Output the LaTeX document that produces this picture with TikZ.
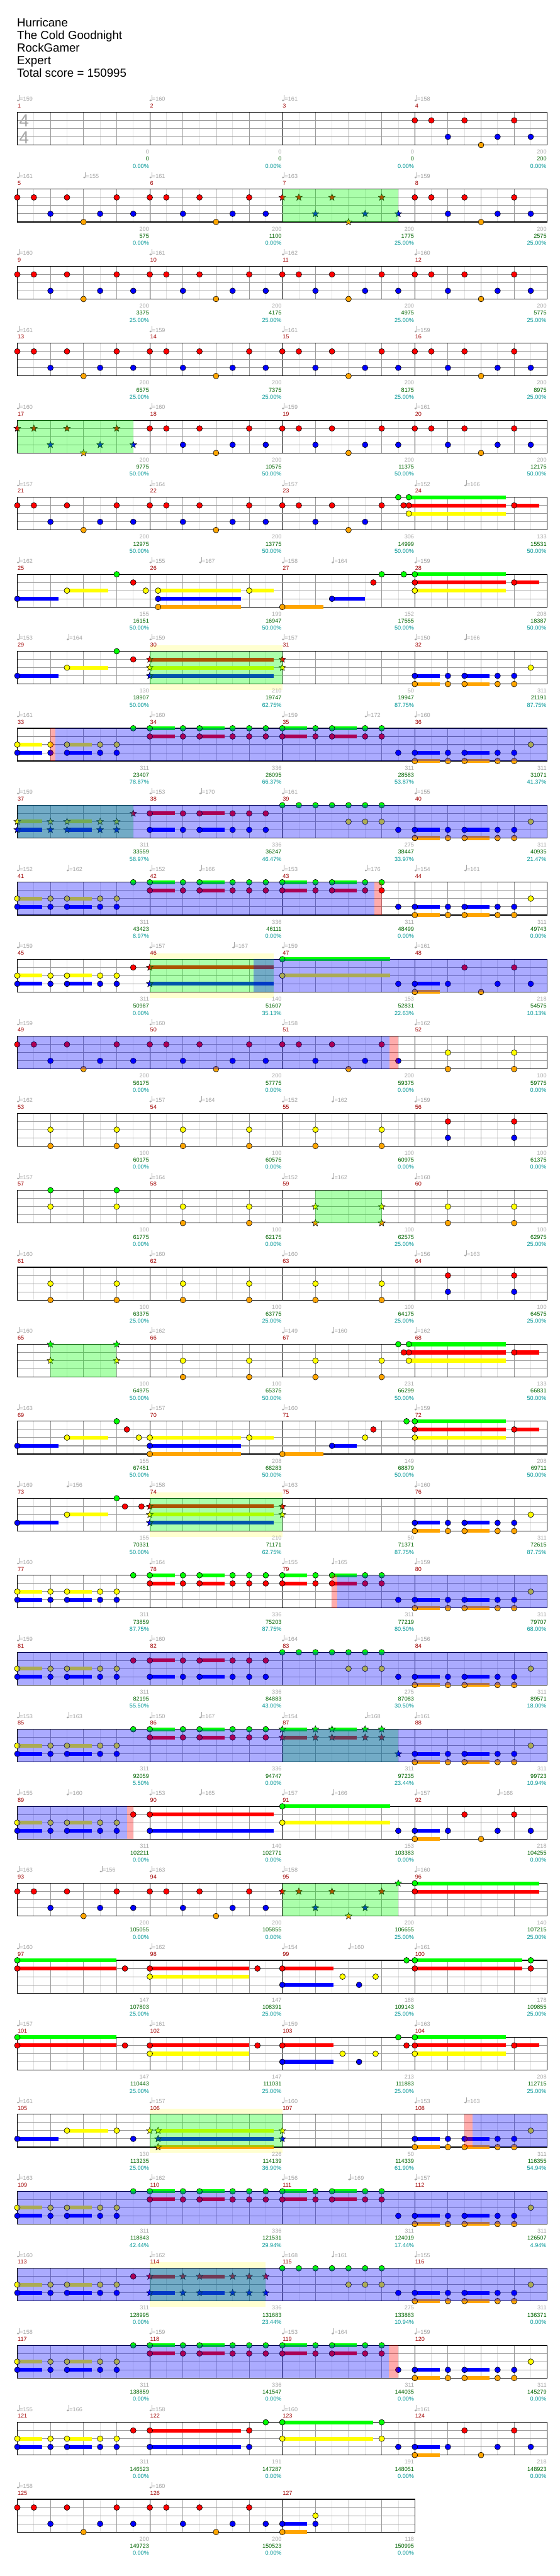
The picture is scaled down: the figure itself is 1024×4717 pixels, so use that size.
\documentclass[tikz,border=0pt]{standalone}
\usepackage{fontspec}
\setmainfont{Liberation Sans}
\usetikzlibrary{shapes.geometric}
\definecolor{c0}{RGB}{0,255,0}
\definecolor{c1}{RGB}{255,0,0}
\definecolor{c2}{RGB}{255,255,0}
\definecolor{c3}{RGB}{0,0,255}
\definecolor{c4}{RGB}{255,165,0}
\definecolor{mnum}{RGB}{160,0,0}
\definecolor{tgrey}{RGB}{165,165,165}
\definecolor{sgreen}{RGB}{0,100,0}
\definecolor{pteal}{RGB}{0,150,150}
\definecolor{ybg}{RGB}{255,255,208}
\definecolor{lgrid}{RGB}{224,224,224}
\definecolor{mgrid}{RGB}{155,155,155}
\newcommand\lf{\fontsize{10.5}{12}\selectfont}
\newcommand\tf{\fontsize{21.5}{25}\selectfont}
\tikzset{lab/.style={anchor=base east,inner sep=0pt,font=\lf},
  mlab/.style={anchor=base west,inner sep=0pt,font=\lf,text=mnum},
  ttl/.style={anchor=base west,inner sep=0pt,font=\tf},
  notesty/.style={draw=black,line width=0.7pt},
  starsty/.style={star,star points=5,star point ratio=2.3,minimum size=13pt,inner sep=0pt,draw=black,line width=0.6pt}}
% position of measure #1, 16th #2, lane #3
\newcommand\mxy[3]{\pgfmathtruncatemacro\rr{(#1-1)/4}\pgfmathtruncatemacro\cc{#1-1-4*\rr}%
 \pgfmathsetmacro\xx{31.67+\cc*242.5+(#2)*15.156}\pgfmathsetmacro\yy{205.5+\rr*141+(#3)*15}}
\newcommand\NtBar[4]{\ifdim #4pt>0pt \mxy{#1}{#2}{#3}\pgfmathsetmacro\xe{\xx+(#4)*15.156}%
 \fill[c#3] (\xx,\yy-3.5) rectangle (\xe,\yy+3.5);\fi}
\newcommand\NtNote[4]{\mxy{#1}{#2}{#3}\filldraw[notesty,fill=c#3] (\xx,\yy) circle[radius=5.2pt];}
\newcommand\StNote[4]{\mxy{#1}{#2}{#3}\node[starsty,fill=c#3] at (\xx,\yy) {};}
\newcommand\Ov[4]{\mxy{#2}{#3}{0}\let\xa\xx\mxy{#2}{#4}{0}%
 \fill[#1,fill opacity=0.33] (\xa,\yy) rectangle (\xx,\yy+60);}
\newcommand\Yb[3]{\mxy{#1}{#2}{0}\let\xa\xx\mxy{#1}{#3}{0}%
 \fill[ybg] (\xa,\yy-10.7) rectangle (\xx,\yy+70.6);}
\newcommand\Tp[3]{\mxy{#1}{#2}{0}%
 \fill[tgrey] (\xx+1.4,\yy-21.6) ellipse [x radius=2.2pt,y radius=1.6pt];
 \draw[tgrey,line width=0.6pt] (\xx+3.3,\yy-21.6) -- (\xx+3.3,\yy-31.5);
 \node[anchor=base west,inner sep=0pt,text=tgrey,font=\lf] at (\xx+4.3,\yy-20.2) {=#3};}
\newcommand\Staff[2]{%
 \pgfmathsetmacro\Ty{205.5+(#1-1)*141}\pgfmathsetmacro\xR{31.67+#2*242.5}%
 \pgfmathtruncatemacro\nE{8*#2-1}\pgfmathtruncatemacro\nB{4*#2-1}%
  \fill[white] (31.67,\Ty) rectangle (\xR,\Ty+60);
  \foreach \k in {1,3,...,\nE} {\draw[lgrid,line width=0.8pt] (31.67+\k*30.3125,\Ty) -- (31.67+\k*30.3125,\Ty+60);}
  \foreach \k in {1,...,\nB} {\pgfmathtruncatemacro\mk{mod(\k,4)}%
    \ifnum\mk=0 \draw[black,line width=0.8pt] (31.67+\k*60.625,\Ty) -- (31.67+\k*60.625,\Ty+60);%
    \else \draw[mgrid,line width=0.9pt] (31.67+\k*60.625,\Ty) -- (31.67+\k*60.625,\Ty+60);\fi}
  \foreach \l in {15,30,45} {\draw[mgrid,line width=1.2pt] (31.67,\Ty+\l) -- (\xR,\Ty+\l);}
  \draw[black,line width=1.3pt] (31.67,\Ty) rectangle (\xR,\Ty+60);}
% patterns
\newcommand\PAb[2][\Nt]{#1{#2}{0}{1}{0}#1{#2}{2}{1}{0}#1{#2}{6}{1}{0}#1{#2}{12}{1}{0}#1{#2}{4}{3}{0}#1{#2}{10}{3}{0}#1{#2}{8}{4}{0}}
\newcommand\PA[2][\Nt]{\PAb[#1]{#2}#1{#2}{14}{3}{0}}
\newcommand\PP[4][\Nt]{#1{#2}{0}{#3}{3}#1{#2}{4}{#3}{0}#1{#2}{6}{#3}{3}#1{#2}{10}{#3}{0}#1{#2}{12}{#3}{0}%
 #1{#2}{0}{#4}{3}#1{#2}{4}{#4}{0}#1{#2}{6}{#4}{3}#1{#2}{10}{#4}{0}#1{#2}{12}{#4}{0}}
\newcommand\PC[1]{\PP{#1}{3}{4}\Nt{#1}{14}{2}{0}}
\newcommand\PD[2][\Nt]{\PP[#1]{#2}{2}{3}}
\newcommand\PE[1]{\PP{#1}{0}{1}\Nt{#1}{14}{0}{0}\Nt{#1}{14}{1}{0}}
\newcommand\PF[2][\Nt]{\PP[#1]{#2}{0}{1}#1{#2}{14}{3}{0}}
\newcommand\PH[2][\Nt]{\PP[#1]{#2}{1}{3}#1{#2}{14}{1}{0}#1{#2}{14}{3}{0}}
\newcommand\PI[1]{\Nt{#1}{0}{0}{0}\Nt{#1}{2}{0}{0}\Nt{#1}{4}{0}{0}\Nt{#1}{6}{0}{0}\Nt{#1}{8}{0}{0}\Nt{#1}{10}{0}{0}\Nt{#1}{12}{0}{0}%
 \Nt{#1}{8}{2}{0}\Nt{#1}{10}{2}{0}\Nt{#1}{12}{2}{0}\Nt{#1}{14}{3}{0}}
\newcommand\PG[1]{\Nt{#1}{0}{3}{3}\Nt{#1}{4}{3}{0}\Nt{#1}{10}{3}{0}\Nt{#1}{14}{3}{0}\Nt{#1}{6}{1}{0}\Nt{#1}{12}{1}{0}\Nt{#1}{0}{4}{3}\Nt{#1}{8}{4}{0}}
\newcommand\Qx[4][\Nt]{#1{#2}{4}{#3}{0}#1{#2}{12}{#3}{0}#1{#2}{4}{#4}{0}#1{#2}{12}{#4}{0}}
\newcommand\NoteData{%
\PA{4}
\PA{5}\PA{6}\PA[\St]{7}\PA{8}
\PA{9}\PA{10}\PA{11}\PA{12}
\PA{13}\PA{14}\PA{15}\PA{16}
\PA[\St]{17}\PA{18}\PA{19}\PA{20}
\PA{21}\PA{22}\PAb{23}\Nt{23}{14}{0}{0}\Nt{23}{14.63}{1}{0}\Nt{23}{15.28}{0}{11.7}\Nt{23}{15.28}{1}{11.7}\Nt{23}{15.28}{2}{11.7}\Nt{24}{12}{1}{3}
\Nt{25}{0}{3}{5}\Nt{25}{6}{2}{5}\Nt{25}{12}{0}{0}\Nt{25}{14}{1}{0}\Nt{25}{15.5}{2}{0}
\Nt{26}{1}{2}{10}\Nt{26}{1}{3}{10}\Nt{26}{1}{4}{10}\Nt{26}{12}{2}{3}
\Nt{27}{0}{4}{5}\Nt{27}{6}{3}{4}\Nt{27}{11}{1}{0}\Nt{27}{12}{0}{0}\Nt{27}{14.67}{0}{0}
\Nt{28}{0}{0}{11}\Nt{28}{0}{1}{11}\Nt{28}{0}{2}{11}\Nt{28}{12}{1}{3}
\Nt{29}{0}{3}{5}\Nt{29}{6}{2}{5}\Nt{29}{12}{0}{0}\Nt{29}{14}{1}{0}
\St{30}{0}{1}{15}\St{30}{0}{2}{15}\St{30}{0}{3}{15}\St{31}{0}{1}{0}\St{31}{0}{2}{0}\PC{32}
\PD{33}\Nt{33}{14}{0}{0}\PE{34}\PF{35}\PC{36}
\PD[\St]{37}\St{37}{14}{1}{0}\PH{38}\PI{39}\PC{40}
\PD{41}\Nt{41}{14}{0}{0}\PE{42}\PF{43}\PC{44}
\PD{45}\Nt{45}{14}{1}{0}\St{46}{0}{1}{14.93}\St{46}{0}{3}{14.93}\Nt{47}{0}{0}{13}\Nt{47}{0}{2}{13}\Nt{47}{14}{3}{0}\PG{48}
\PA{49}\PA{50}\PA{51}\Qx{52}{2}{4}
\Qx{53}{2}{4}\Qx{54}{2}{4}\Qx{55}{2}{4}\Qx{56}{1}{3}
\Qx{57}{0}{2}\Qx{58}{2}{4}\Qx[\St]{59}{2}{4}\Qx{60}{2}{4}
\Qx{61}{2}{4}\Qx{62}{2}{4}\Qx{63}{2}{4}\Qx{64}{1}{3}
\Qx[\St]{65}{0}{2}\Qx{66}{2}{4}\Qx{67}{2}{4}\Nt{67}{14}{0}{0}\Nt{67}{14.67}{1}{0}\Nt{67}{15.28}{0}{11.7}\Nt{67}{15.28}{1}{11.7}\Nt{67}{15.28}{2}{11.7}\Nt{68}{12}{1}{3}
\Nt{69}{0}{3}{5}\Nt{69}{6}{2}{5}\Nt{69}{12}{0}{0}\Nt{69}{13.23}{1}{0}\Nt{69}{14.67}{2}{0}
\Nt{70}{0}{2}{11}\Nt{70}{0}{3}{11}\Nt{70}{0}{4}{11}\Nt{70}{12}{2}{3}
\Nt{71}{0}{4}{5}\Nt{71}{6}{3}{3}\Nt{71}{10}{2}{0}\Nt{71}{11}{1}{0}\Nt{71}{15}{0}{0}
\Nt{72}{0}{0}{11}\Nt{72}{0}{1}{11}\Nt{72}{0}{2}{11}\Nt{72}{12}{1}{3}
\Nt{73}{0}{3}{5}\Nt{73}{6}{2}{5}\Nt{73}{12}{0}{0}\Nt{73}{13}{1}{0}\Nt{73}{15}{1}{0}
\St{74}{0}{1}{15}\St{74}{0}{2}{15}\St{74}{0}{3}{15}\St{75}{0}{1}{0}\St{75}{0}{2}{0}\PC{76}
\PD{77}\Nt{77}{14}{0}{0}\PE{78}\PF{79}\PC{80}
\PD{81}\Nt{81}{14}{1}{0}\PH{82}\PI{83}\PC{84}
\PD{85}\Nt{85}{14}{0}{0}\PE{86}\PF[\St]{87}\PC{88}
\PD{89}\Nt{89}{14}{1}{0}\Nt{90}{0}{1}{15}\Nt{90}{0}{3}{15}\Nt{91}{0}{0}{13}\Nt{91}{0}{2}{13}\Nt{91}{14}{3}{0}\PG{92}
\PA{93}\PA{94}\PAb[\St]{95}\St{95}{14}{0}{0}\Nt{96}{0}{0}{15}\Nt{96}{0}{1}{15}
\Nt{97}{0}{0}{12}\Nt{97}{0}{1}{12}\Nt{97}{13}{1}{0}\Nt{98}{0}{1}{12}\Nt{98}{0}{2}{12}\Nt{98}{13}{1}{0}
\Nt{99}{0}{1}{6.2}\Nt{99}{0}{3}{6.2}\Nt{99}{7.27}{2}{0}\Nt{99}{9.27}{3}{0}\Nt{99}{11.27}{2}{0}\Nt{99}{15}{0}{0}
\Nt{100}{0}{0}{13}\Nt{100}{0}{1}{13}\Nt{100}{14}{0}{0}\Nt{100}{14}{1}{0}
\Nt{101}{0}{0}{12}\Nt{101}{0}{1}{12}\Nt{101}{13}{1}{0}\Nt{102}{0}{1}{12}\Nt{102}{0}{2}{12}\Nt{102}{13}{1}{0}
\Nt{103}{0}{1}{6.2}\Nt{103}{0}{3}{6.2}\Nt{103}{7.27}{2}{0}\Nt{103}{9.27}{3}{0}\Nt{103}{11.27}{2}{0}\Nt{103}{14}{0}{0}\Nt{103}{15}{1}{0}
\Nt{104}{0}{0}{11}\Nt{104}{0}{1}{11}\Nt{104}{0}{2}{11}\Nt{104}{12}{1}{3}
\Nt{105}{0}{3}{5}\Nt{105}{6}{2}{5}\Nt{105}{12}{2}{0}\Nt{105}{14}{3}{0}
\St{106}{0}{2}{0}\St{106}{1}{2}{14}\St{106}{1}{3}{14}\St{106}{1}{4}{14}\St{107}{0}{2}{0}\St{107}{0}{3}{0}\PC{108}
\PD{109}\Nt{109}{14}{0}{0}\PE{110}\PF{111}\PC{112}
\PD{113}\Nt{113}{14}{1}{0}\PH[\St]{114}\PI{115}\PC{116}
\PD{117}\Nt{117}{14}{0}{0}\PE{118}\PF{119}\PC{120}
\PD{121}\Nt{121}{14}{1}{0}\Nt{122}{0}{1}{11}\Nt{122}{0}{3}{11}\Nt{122}{12}{1}{0}\Nt{122}{12}{3}{0}\Nt{122}{14}{0}{0}
\Nt{123}{0}{0}{11}\Nt{123}{0}{2}{11}\Nt{123}{12}{0}{0}\Nt{123}{12}{2}{0}\Nt{123}{14}{3}{0}\PG{124}
\PA{125}\PA{126}\Nt{127}{0}{3}{3}\Nt{127}{0}{4}{3}\Nt{127}{4}{2}{0}\Nt{127}{4}{3}{0}}
\begin{document}
\begin{tikzpicture}[x=1pt,y=-1pt]
\useasboundingbox (0,0) rectangle (1024,4717);
\fill[white] (0,0) rectangle (1024,4717);
% title
\node[ttl] (t1) at (31,49) {Hurricane};
\node[ttl] (t2) at (31,72) {The Cold Goodnight};
\node[ttl] (t3) at (31,95) {RockGamer};
\node[ttl] (t4) at (31,118) {Expert};
\node[ttl] (t5) at (31,141) {Total score = 150995};
% yellow bands
\Yb{30}{0}{16}\Yb{46}{0}{14.93}\Yb{74}{0}{16}\Yb{106}{0}{16}\Yb{114}{0}{14}
% staffs
\foreach \r in {1,...,31} {\Staff{\r}{4}}
\Staff{32}{3}
\node[anchor=base west,inner sep=0pt,text=tgrey,font=\fontsize{32}{34}\selectfont] (ts1) at (35,232.3) {4};
\node[anchor=base west,inner sep=0pt,text=tgrey,font=\fontsize{32}{34}\selectfont] (ts2) at (35,262.7) {4};
% sustain bars, then notes
\let\Nt\NtBar\let\St\NtBar\NoteData
\let\Nt\NtNote\let\St\StNote\NoteData
% overlays
\Ov{green}{7}{0}{14}\Ov{green}{17}{0}{14}\Ov{green}{30}{0}{16}\Ov{green}{37}{0}{14}\Ov{green}{46}{0}{14.93}
\Ov{green}{59}{4}{12}\Ov{green}{65}{4}{12}\Ov{green}{74}{0}{16}\Ov{green}{87}{0}{14}\Ov{green}{95}{0}{14}
\Ov{green}{106}{0}{16}\Ov{green}{114}{0}{14}
\Ov{red}{33}{4}{4.57}\Ov{blue}{33}{4.57}{64}\Ov{blue}{37}{0}{64}\Ov{blue}{41}{0}{43.1}\Ov{red}{41}{43.1}{44.06}
\Ov{blue}{46}{12.56}{48}\Ov{blue}{49}{0}{44.93}\Ov{red}{49}{44.93}{45.97}
\Ov{red}{77}{37.96}{38.66}\Ov{blue}{77}{38.66}{64}\Ov{blue}{81}{0}{64}\Ov{blue}{85}{0}{64}
\Ov{blue}{89}{0}{13.23}\Ov{red}{89}{13.23}{14}
\Ov{red}{105}{53.98}{54.98}\Ov{blue}{105}{54.98}{64}\Ov{blue}{109}{0}{64}\Ov{blue}{113}{0}{64}
\Ov{blue}{117}{0}{44.84}\Ov{red}{117}{44.84}{45.97}
% tempos
\foreach \tm/\tq/\tv in {1/0/159,2/0/160,3/0/161,4/0/158,5/0/161,5/8/155,6/0/161,7/0/163,8/0/159,
 9/0/160,10/0/161,11/0/162,12/0/160,13/0/161,14/0/159,15/0/161,16/0/159,17/0/160,18/0/160,19/0/159,20/0/161,
 21/0/157,22/0/164,23/0/157,24/0/152,24/6/166,25/0/162,26/0/155,26/6/167,27/0/158,27/6/164,28/0/159,
 29/0/153,29/6/164,30/0/159,31/0/157,32/0/150,32/6/166,33/0/161,34/0/160,35/0/159,35/10/172,36/0/160,
 37/0/159,38/0/153,38/6/170,39/0/161,40/0/155,41/0/152,41/6/162,42/0/152,42/6/166,43/0/153,43/10/176,44/0/154,44/6/161,
 45/0/159,46/0/157,46/10/167,47/0/159,48/0/161,49/0/159,50/0/160,51/0/158,52/0/162,
 53/0/162,54/0/157,54/6/164,55/0/152,55/6/162,56/0/159,57/0/157,58/0/164,59/0/152,59/6/162,60/0/160,
 61/0/160,62/0/160,63/0/160,64/0/156,64/6/163,65/0/160,66/0/162,67/0/149,67/6/160,68/0/162,
 69/0/163,70/0/157,71/0/160,72/0/159,73/0/169,73/6/156,74/0/158,75/0/163,76/0/160,
 77/0/160,78/0/164,79/0/155,79/6/165,80/0/159,81/0/159,82/0/160,83/0/164,84/0/156,
 85/0/153,85/6/163,86/0/150,86/6/167,87/0/154,87/10/168,88/0/161,
 89/0/155,89/6/160,90/0/153,90/6/165,91/0/157,91/6/166,92/0/157,92/10/166,
 93/0/163,93/10/156,94/0/163,95/0/158,96/0/160,97/0/160,98/0/162,99/0/154,99/8/160,100/0/161,
 101/0/157,102/0/161,103/0/159,104/0/163,105/0/161,106/0/157,107/0/160,108/0/153,108/6/163,
 109/0/163,110/0/162,111/0/156,111/8/169,112/0/157,113/0/160,114/0/162,115/0/168,115/6/161,116/0/155,
 117/0/158,118/0/159,119/0/153,119/6/164,120/0/159,121/0/155,121/6/166,122/0/158,123/0/160,124/0/161,
 125/0/158,126/0/160} {\Tp{\tm}{\tq}{\tv}}
% measure numbers and labels
\foreach \m/\a/\b/\c in {1/0/0/0.00,2/0/0/0.00,3/0/0/0.00,4/200/200/0.00,
 5/200/575/0.00,6/200/1100/0.00,7/200/1775/25.00,8/200/2575/25.00,
 9/200/3375/25.00,10/200/4175/25.00,11/200/4975/25.00,12/200/5775/25.00,
 13/200/6575/25.00,14/200/7375/25.00,15/200/8175/25.00,16/200/8975/25.00,
 17/200/9775/50.00,18/200/10575/50.00,19/200/11375/50.00,20/200/12175/50.00,
 21/200/12975/50.00,22/200/13775/50.00,23/306/14999/50.00,24/133/15531/50.00,
 25/155/16151/50.00,26/199/16947/50.00,27/152/17555/50.00,28/208/18387/50.00,
 29/130/18907/50.00,30/210/19747/62.75,31/50/19947/87.75,32/311/21191/87.75,
 33/311/23407/78.87,34/336/26095/66.37,35/311/28583/53.87,36/311/31071/41.37,
 37/311/33559/58.97,38/336/36247/46.47,39/275/38447/33.97,40/311/40935/21.47,
 41/311/43423/8.97,42/336/46111/0.00,43/311/48499/0.00,44/311/49743/0.00,
 45/311/50987/0.00,46/140/51607/35.13,47/153/52831/22.63,48/218/54575/10.13,
 49/200/56175/0.00,50/200/57775/0.00,51/200/59375/0.00,52/100/59775/0.00,
 53/100/60175/0.00,54/100/60575/0.00,55/100/60975/0.00,56/100/61375/0.00,
 57/100/61775/0.00,58/100/62175/0.00,59/100/62575/25.00,60/100/62975/25.00,
 61/100/63375/25.00,62/100/63775/25.00,63/100/64175/25.00,64/100/64575/25.00,
 65/100/64975/50.00,66/100/65375/50.00,67/231/66299/50.00,68/133/66831/50.00,
 69/155/67451/50.00,70/208/68283/50.00,71/149/68879/50.00,72/208/69711/50.00,
 73/155/70331/50.00,74/210/71171/62.75,75/50/71371/87.75,76/311/72615/87.75,
 77/311/73859/87.75,78/336/75203/87.75,79/311/77219/80.50,80/311/79707/68.00,
 81/311/82195/55.50,82/336/84883/43.00,83/275/87083/30.50,84/311/89571/18.00,
 85/311/92059/5.50,86/336/94747/0.00,87/311/97235/23.44,88/311/99723/10.94,
 89/311/102211/0.00,90/140/102771/0.00,91/153/103383/0.00,92/218/104255/0.00,
 93/200/105055/0.00,94/200/105855/0.00,95/200/106655/25.00,96/140/107215/25.00,
 97/147/107803/25.00,98/147/108391/25.00,99/188/109143/25.00,100/178/109855/25.00,
 101/147/110443/25.00,102/147/111031/25.00,103/213/111883/25.00,104/208/112715/25.00,
 105/130/113235/25.00,106/226/114139/36.90,107/50/114339/61.90,108/311/116355/54.94,
 109/311/118843/42.44,110/336/121531/29.94,111/311/124019/17.44,112/311/126507/4.94,
 113/311/128995/0.00,114/336/131683/23.44,115/275/133883/10.94,116/311/136371/0.00,
 117/311/138859/0.00,118/336/141547/0.00,119/311/144035/0.00,120/311/145279/0.00,
 121/311/146523/0.00,122/191/147287/0.00,123/191/148051/0.00,124/218/148923/0.00,
 125/200/149723/0.00,126/200/150523/0.00,127/118/150995/0.00} {
 \pgfmathtruncatemacro\rr{(\m-1)/4}\pgfmathtruncatemacro\cc{\m-1-4*\rr}
 \pgfmathsetmacro\xs{31.67+\cc*242.5}\pgfmathsetmacro\xE{\xs+241.3}\pgfmathsetmacro\Ty{205.5+\rr*141}
 \node[mlab] at (\xs+0.5,\Ty-7.8) {\m};
 \node[lab,text=tgrey] at (\xE,\Ty+76.2) {\a};
 \node[lab,text=sgreen] at (\xE,\Ty+89.2) {\b};
 \node[lab,text=pteal] at (\xE,\Ty+102.2) {\c\%};
}
\end{tikzpicture}
\end{document}
